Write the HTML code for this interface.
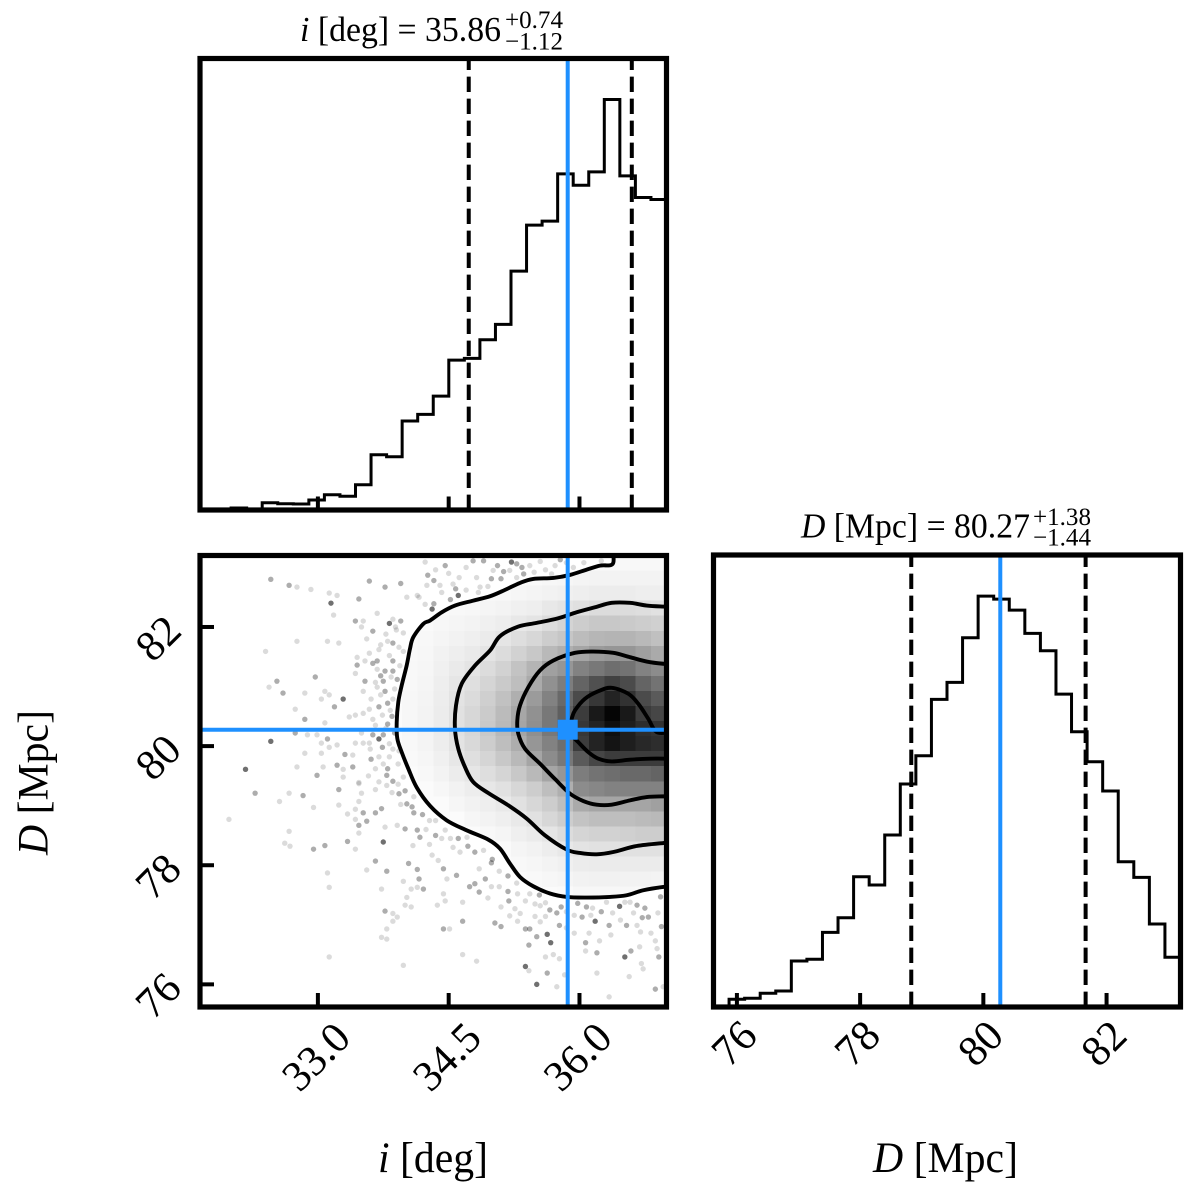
<!DOCTYPE html>
<html lang="en">
<head>
<meta charset="utf-8">
<title>Corner plot of inclination and distance</title>
<style>
  html, body { margin: 0; padding: 0; background: #fff; }
  svg { display: block; font-family: "Liberation Serif", serif; fill: #000; }
</style>
</head>
<body>
<svg id="corner" xmlns="http://www.w3.org/2000/svg" width="1200" height="1200" viewBox="0 0 1200 1200">
  <defs>
    <clipPath id="clip-top"><rect x="200" y="58.5" width="466.5" height="451.5"/></clipPath>
    <clipPath id="clip-joint"><rect x="200" y="555.5" width="466.5" height="451.5"/></clipPath>
    <clipPath id="clip-right"><rect x="713.5" y="555" width="467" height="452"/></clipPath>
    <clipPath id="clip-density"><path id="clip-density-path" d=""/></clipPath>
  </defs>
  <g id="layer-marks"></g>
  <g id="layer-axes"></g>

  <g>
    <text x="300" y="41" font-size="34.5" textLength="201" lengthAdjust="spacingAndGlyphs"><tspan font-style="italic">i</tspan> [deg] = 35.86</text>
    <text x="505" y="28" font-size="25" textLength="58" lengthAdjust="spacingAndGlyphs">+0.74</text>
    <text x="505" y="49.5" font-size="25" textLength="58" lengthAdjust="spacingAndGlyphs">−1.12</text>
    <text x="801" y="537.7" font-size="34.5" textLength="229" lengthAdjust="spacingAndGlyphs"><tspan font-style="italic">D</tspan> [Mpc] = 80.27</text>
    <text x="1033" y="525" font-size="25" textLength="58" lengthAdjust="spacingAndGlyphs">+1.38</text>
    <text x="1033" y="545.7" font-size="25" textLength="58" lengthAdjust="spacingAndGlyphs">−1.44</text>
  </g>
  <text x="378" y="1172" font-size="43" textLength="110" lengthAdjust="spacingAndGlyphs"><tspan font-style="italic">i</tspan> [deg]</text>
  <text x="873" y="1172" font-size="43" textLength="145" lengthAdjust="spacingAndGlyphs"><tspan font-style="italic">D</tspan> [Mpc]</text>
  <text transform="translate(47.7 855) rotate(-90)" font-size="43" textLength="145" lengthAdjust="spacingAndGlyphs"><tspan font-style="italic">D</tspan> [Mpc]</text>
</svg>

<script>
// ---------- data ----------
const iRange = [31.648, 36.998];
const dRange = [75.62, 83.2];
const binCount = 30;

const iCounts = [0.2, 0.3, 2, 0.5, 7.3, 6.3, 6, 10, 15.3, 13.7, 25.3, 55.3, 53.3, 89, 95.7, 114, 150, 151.7, 170.3, 185.7, 239, 285, 289, 336.3, 325, 338.3, 410.7, 334.3, 312.7, 310.7];
const dCounts = [1, 7.7, 8.7, 13.7, 16, 46, 47.7, 74.7, 89.3, 130.3, 122, 172, 223, 251.3, 307.7, 324.7, 369.3, 411, 408, 397, 373.7, 356.3, 313, 275.3, 245.3, 216, 145.3, 129.7, 83, 49.7];

const iMedian = 35.865;
const iQuantiles = [34.73, 36.60];
const dMedian = 80.275;
const dQuantiles = [78.83, 81.66];

const iTicks = [33.0, 34.5, 36.0];
const iTickLabels = ['33.0', '34.5', '36.0'];
const dTicks = [76, 78, 80, 82];
const dTickLabels = ['76', '78', '80', '82'];

// 2-D histogram darkness (0 = white, 255 = black); rows run from the highest distance bin downward,
// columns start at heatFirstColumn.
const heatFirstColumn = 13;
const heatRows = [
  [0,0,0,0,0,0,0,0,0,5,5,6,6,7,7,7,7],
  [0,0,0,0,0,0,3,4,6,8,9,11,12,12,12,12,12],
  [0,0,0,0,4,6,7,9,11,13,15,17,19,19,19,17,17],
  [0,4,5,7,8,10,12,15,17,23,27,31,35,35,35,33,30],
  [0,5,8,10,12,15,18,23,27,35,43,50,55,55,53,50,47],
  [5,7,10,13,16,20,26,33,40,50,57,67,73,75,75,70,63],
  [6,8,13,17,21,27,35,45,55,70,80,90,100,105,105,95,85],
  [7,9,15,21,27,35,45,60,75,95,105,125,135,145,140,125,115],
  [7,10,17,25,32,42,53,65,85,110,130,155,175,190,180,155,140],
  [8,11,18,28,36,48,62,80,100,125,150,180,200,220,205,180,165],
  [8,12,19,30,40,52,68,88,110,135,160,195,230,250,230,195,185],
  [8,12,19,30,40,54,70,90,112,135,165,200,220,240,225,210,205],
  [7,11,18,28,38,50,65,82,105,125,145,195,220,235,225,215,210],
  [6,9,15,24,32,42,55,70,90,115,135,165,185,195,195,195,195],
  [0,7,12,19,25,33,42,55,70,90,105,130,140,145,150,150,155],
  [0,0,8,13,18,24,30,40,50,65,80,115,120,125,125,125,125],
  [0,0,0,9,13,17,22,30,40,50,65,85,90,90,90,90,95],
  [0,0,0,0,9,12,16,22,30,40,50,60,65,65,65,68,70],
  [0,0,0,0,0,7,10,16,20,26,35,42,45,45,47,50,50],
  [0,0,0,0,0,0,5,10,13,18,23,28,30,30,30,30,30],
  [0,0,0,0,0,0,0,7,9,12,15,19,20,20,20,20,20],
  [0,0,0,0,0,0,0,0,6,8,10,13,14,14,13,13,12],
  [0,0,0,0,0,0,0,0,0,0,5,8,8,8,8,7,6]
];

// contour levels as [i, D] pairs
const contourOuter = [[36.381,83.3],[36.381,83.059],[36.235,83.03],[36.083,82.963],[35.891,82.874],[35.70,82.824],[35.47,82.807],[35.318,82.74],[35.146,82.623],[34.974,82.516],[34.782,82.443],[34.572,82.36],[34.42,82.247],[34.286,82.108],[34.209,82.053],[34.094,81.828],[34.056,81.633],[34.018,81.353],[33.961,81.018],[33.922,80.738],[33.904,80.402],[33.911,80.124],[33.961,79.899],[34.037,79.621],[34.133,79.307],[34.286,78.997],[34.477,78.754],[34.706,78.586],[34.954,78.43],[35.088,78.279],[35.203,78.028],[35.318,77.803],[35.47,77.647],[35.662,77.525],[35.853,77.468],[36.083,77.458],[36.35,77.468],[36.541,77.496],[36.732,77.58],[36.961,77.635],[37.05,77.64]];
const contourSecond = [[37.05,82.34],[36.961,82.343],[36.771,82.36],[36.579,82.405],[36.369,82.405],[36.178,82.331],[35.968,82.247],[35.757,82.147],[35.509,82.069],[35.298,82.007],[35.088,81.845],[34.974,81.605],[34.802,81.353],[34.649,81.046],[34.584,80.683],[34.572,80.292],[34.61,79.956],[34.687,79.648],[34.782,79.396],[34.954,79.212],[35.183,79.006],[35.395,78.783],[35.604,78.502],[35.853,78.263],[36.006,78.206],[36.197,78.184],[36.388,78.222],[36.656,78.323],[36.961,78.373],[37.05,78.38]];
const contourThird = [[37.05,81.38],[36.961,81.382],[36.771,81.42],[36.579,81.493],[36.388,81.566],[36.158,81.588],[35.948,81.566],[35.70,81.437],[35.547,81.27],[35.413,80.989],[35.318,80.683],[35.287,80.431],[35.298,80.208],[35.375,79.956],[35.547,79.705],[35.719,79.447],[35.891,79.202],[36.044,79.078],[36.197,79.017],[36.369,79.017],[36.579,79.089],[36.771,79.145],[36.961,79.156],[37.05,79.16]];
const contourInner = [[37.05,80.235],[36.885,80.235],[36.789,80.459],[36.674,80.711],[36.56,80.879],[36.369,80.979],[36.216,80.922],[36.063,80.795],[35.948,80.599],[35.911,80.46],[35.891,80.297],[35.914,80.179],[35.986,80.067],[36.101,79.899],[36.216,79.789],[36.369,79.743],[36.579,79.772],[36.808,79.789],[37.05,79.789]];

// samples outside the lowest contour: [i, D, overlap depth]
const scatterSamples = [
[32.46,82.80,2],[32.67,82.70,2],[32.76,82.67,1],[32.92,82.63,1],[33.13,82.57,1],[33.22,82.53,1],[33.15,82.40,3],[33.18,82.20,1],[33.47,82.47,2],[33.59,82.77,2],[33.77,82.67,2],[33.95,82.73,2],[34.02,82.50,1],[34.14,82.53,1],[34.16,82.50,1],[34.23,82.38,1],[34.25,82.70,1],[34.26,82.87,2],[34.23,83.09,1],[33.68,82.23,1],[33.43,82.10,2],[33.52,82.10,1],[33.50,82.00,1],[33.63,81.93,2],[33.82,82.06,3],[33.86,82.13,1],[33.95,82.10,2],[33.89,82.00,1],[33.98,81.90,1],[33.56,81.80,1],[33.80,81.76,1],[33.86,81.73,2],[32.76,81.76,1],[33.11,81.76,1],[33.24,81.73,1],[32.40,81.59,1],[33.59,81.56,1],[33.45,81.49,1],[33.54,81.43,1],[33.63,81.39,2],[33.68,81.43,2],[33.86,81.43,2],[33.98,81.59,1],[33.45,81.36,2],[33.43,81.22,1],[33.68,81.29,1],[33.77,81.26,2],[33.86,81.26,2],[32.97,81.16,2],[32.53,81.09,2],[32.44,80.99,1],[32.60,80.89,2],[32.85,80.89,1],[33.54,81.09,2],[33.75,81.09,2],[33.91,81.12,2],[33.68,80.99,1],[33.77,80.92,2],[33.52,80.92,1],[33.08,80.92,1],[33.04,80.79,1],[33.13,80.86,1],[33.29,80.79,3],[33.61,80.79,1],[33.80,80.72,2],[33.86,80.79,1],[33.70,80.66,2],[32.74,80.62,1],[33.19,80.66,2],[33.59,80.62,1],[33.36,80.49,1],[33.43,80.52,1],[33.52,80.55,1],[33.63,80.45,1],[32.85,80.45,2],[33.08,80.39,1],[33.80,80.37,2],[32.74,80.22,2],[32.88,80.19,1],[32.99,80.19,1],[33.50,80.22,1],[33.63,80.19,2],[33.75,80.19,2],[33.70,80.12,3],[32.46,80.08,3],[33.11,80.12,2],[33.04,80.05,1],[33.13,79.98,1],[33.22,80.02,1],[33.43,80.05,1],[33.52,80.05,1],[33.59,80.05,1],[33.82,80.04,1],[32.85,79.88,1],[33.04,79.88,1],[33.31,79.86,2],[33.40,79.85,1],[33.61,79.78,2],[33.70,79.82,1],[33.82,79.82,1],[33.93,79.92,1],[33.22,79.68,2],[33.40,79.65,2],[33.29,79.61,1],[32.76,79.65,1],[33.06,79.65,1],[32.17,79.61,3],[32.99,79.51,2],[33.29,79.48,1],[33.47,79.39,1],[33.79,79.51,2],[33.86,79.41,2],[33.98,79.48,1],[33.75,79.70,1],
[32.28,79.21,2],[32.67,79.21,1],[32.83,79.17,2],[32.56,79.07,1],[32.95,78.97,1],[31.98,78.77,1],[33.24,79.27,2],[33.24,79.01,1],[33.47,79.37,1],[33.50,79.21,1],[33.47,79.07,1],[33.66,79.27,1],[33.79,79.34,1],[33.34,78.86,1],[33.43,78.94,1],[33.52,78.88,2],[33.66,78.88,2],[33.73,78.95,2],[33.43,78.77,1],[33.56,78.74,2],[33.47,78.67,2],[33.47,78.54,1],[32.67,78.57,1],[32.62,78.37,1],[32.68,78.32,1],[32.95,78.27,2],[33.08,78.33,2],[33.34,78.40,2],[33.43,78.27,1],[33.75,78.39,3],[33.77,78.64,1],[33.91,78.67,1],[34.00,78.61,2],[34.14,78.59,2],[34.17,78.47,2],[34.09,78.33,1],[33.93,79.20,2],[34.02,79.03,2],[34.10,78.88,2],[33.66,78.07,2],[33.11,77.87,1],[33.13,77.63,1],[33.56,77.92,1],[33.79,77.90,2],[34.04,78.03,2],[34.14,77.93,2],[34.16,77.77,2],[33.98,77.73,1],[33.73,77.60,1],[34.07,77.60,1],[34.14,77.63,1],[34.21,77.60,2],[34.02,77.46,1],[34.00,77.33,1],[34.07,77.30,1],[33.77,77.23,2],[33.86,77.19,1],[33.91,77.13,1],[33.86,77.06,1],[33.79,76.93,1],[33.73,76.79,1],[33.79,76.76,1],[33.13,76.46,1],[33.98,76.32,1],
[34.35,78.75,1],[34.46,78.59,1],[34.42,78.45,1],[34.52,78.45,1],[34.61,78.45,2],[34.71,78.47,1],[34.63,78.22,1],[34.80,78.22,2],[34.31,78.17,1],[34.38,78.08,1],[34.99,78.04,2],[34.44,77.94,2],[34.59,77.83,2],[34.85,77.94,1],[34.48,77.77,1],[34.92,77.77,2],[34.80,77.69,2],[34.74,77.64,2],[34.99,77.64,1],[35.08,77.64,1],[34.85,77.55,2],[35.18,77.56,2],[35.29,77.52,1],[35.43,77.52,1],[35.54,77.50,2],[34.44,77.52,1],[34.46,77.40,1],[34.37,77.33,1],[34.66,77.38,1],[35.19,77.40,2],[35.26,77.27,1],[35.49,77.35,1],[35.61,77.37,1],[35.79,77.30,2],[35.74,77.20,2],[35.32,77.19,1],[35.49,77.14,1],[35.61,77.14,1],[35.94,77.16,1],[35.98,77.36,2],[36.08,77.30,2],[36.03,77.13,2],[36.13,77.16,1],[36.31,77.38,1],[36.46,77.31,3],[36.58,77.38,1],[36.66,77.33,2],[36.75,77.28,2],[36.79,77.13,2],[36.52,77.38,1],[36.93,77.47,2],[36.18,77.06,3],[36.34,76.99,2],[36.54,76.99,2],[36.66,76.99,1],[36.47,77.08,1],[36.94,76.97,2],[34.66,77.06,2],[35.03,77.03,2],[35.10,76.97,2],[34.44,76.93,2],[34.51,76.93,1],[35.38,76.93,2],[35.43,76.93,2],[35.29,77.06,1],[35.77,76.99,2],[35.63,76.84,3],[35.51,76.80,2],[35.67,76.70,3],[35.42,76.66,2],[35.94,76.86,1],[36.11,76.86,1],[36.23,76.73,1],[36.07,76.70,2],[36.36,76.83,1],[36.70,76.88,1],[36.82,76.86,1],[36.87,76.73,1],[36.69,76.63,1],[36.59,76.56,2],[36.52,76.46,3],[36.91,76.46,2],[36.89,76.60,1],[36.07,76.56,1],[36.20,76.53,2],[34.66,76.50,1],[34.82,76.39,1],[35.61,76.46,1],[35.70,76.50,1],[35.77,76.43,1],[35.38,76.30,3],[35.42,76.23,1],[35.63,76.19,2],[35.51,76.00,3],[35.74,75.96,1],[35.83,76.16,1],[36.20,76.19,1],[36.57,76.13,1],[36.71,76.35,1],[36.73,76.26,1],[36.87,75.92,2],[36.96,75.96,1],[36.34,75.79,1],
[34.46,83.03,2],[34.35,82.96,1],[34.33,82.78,2],[34.40,82.70,1],[34.62,82.83,1],[34.82,82.83,1],[34.99,82.81,2],[35.10,82.81,2],[34.58,82.64,2],[34.61,82.53,3],[34.52,82.46,2],[34.86,82.67,1],[34.90,83.11,2],[34.78,83.11,2],[35.06,83.03,2],[35.13,82.93,2],[35.22,83.09,3],[35.28,83.06,2],[35.43,83.03,1],[35.34,83.00,2],[35.36,82.89,2],[35.72,83.03,1],[35.78,83.13,2],[35.61,82.96,1],[35.93,83.00,1],[36.25,83.11,1],[34.33,82.39,2],[34.31,82.30,3],[35.68,82.89,1],[35.28,82.83,1],[35.01,82.95,1],[34.84,82.58,1],[34.42,82.58,1],
[33.90,81.95,1],[33.78,81.88,1],[33.72,81.70,1],[33.93,81.66,1],[33.70,81.62,1],[33.82,81.52,1],[33.94,81.35,1],[33.72,81.18,2],[33.84,81.16,1],[33.66,81.07,1],[33.88,80.96,1],[33.72,80.86,1],[33.83,80.60,1],[33.74,80.52,1],[33.85,80.50,2],[33.66,80.35,1],[33.78,80.30,1],[33.88,80.22,2],[33.60,79.95,1],[33.74,79.98,2],[33.86,79.95,1],[33.66,79.62,1],[33.80,79.62,2],[33.92,79.70,1],[33.58,79.50,1],[33.70,79.40,1],[33.92,79.36,1],[34.00,79.25,2],[34.10,79.15,1],[33.85,79.22,1],[33.95,79.02,1],[34.08,78.98,2],[34.20,78.85,2],[34.28,78.75,1],[34.24,78.60,1],[34.35,78.50,2],[34.28,78.35,1],
[34.55,78.30,1],[34.72,78.32,2],[34.90,78.25,1],[35.00,78.10,2],[35.08,77.90,1],[35.18,77.82,2],[35.28,77.70,1],[35.38,77.40,1],[35.55,77.32,1],[35.66,77.25,2],[35.85,77.22,1],[36.15,77.28,1],[36.25,77.22,2],[36.38,77.20,1],[36.62,77.20,1],[36.72,77.12,2],[36.90,77.20,1],[35.20,77.15,1],[35.10,77.30,1],[34.95,77.45,1],[35.55,77.05,1],[35.85,76.95,1],
[34.70,82.62,1],[34.55,82.72,1],[34.95,82.68,1],[35.20,82.95,1],[35.48,82.92,1],[35.55,83.10,1],[34.70,83.00,1],[34.50,82.90,1],[35.85,83.08,1],[36.05,83.08,1]
];

// ---------- axis functions ----------
const TOP = { left: 200, right: 666.5, top: 58.5, bottom: 510 };
const JOINT = { left: 200, right: 666.5, top: 555.5, bottom: 1007 };
const RIGHT = { left: 713.5, right: 1180.5, top: 555, bottom: 1007 };

function scaleI(v) { return 200 + (v - iRange[0]) / (iRange[1] - iRange[0]) * 466.5; }
function scaleDx(v) { return 713.5 + (v - dRange[0]) / (dRange[1] - dRange[0]) * 467; }
function scaleDy(v) { return 1007 - (v - dRange[0]) / (dRange[1] - dRange[0]) * 451.5; }
function histY(panel, count, counts) {
  const yMax = Math.max.apply(null, counts) * 1.1;
  return panel.bottom - count / yMax * (panel.bottom - panel.top);
}

// ---------- helpers ----------
const NS = 'http://www.w3.org/2000/svg';
const marks = document.getElementById('layer-marks');
const axes = document.getElementById('layer-axes');
function make(tag, attrs, parent) {
  const el = document.createElementNS(NS, tag);
  for (const k in attrs) el.setAttribute(k, attrs[k]);
  parent.appendChild(el);
  return el;
}
function smoothPath(points) {
  let d = 'M' + points[0][0].toFixed(2) + ' ' + points[0][1].toFixed(2);
  for (let k = 0; k < points.length - 1; k++) {
    const p0 = points[Math.max(k - 1, 0)], p1 = points[k], p2 = points[k + 1], p3 = points[Math.min(k + 2, points.length - 1)];
    const c1x = p1[0] + (p2[0] - p0[0]) / 6, c1y = p1[1] + (p2[1] - p0[1]) / 6;
    const c2x = p2[0] - (p3[0] - p1[0]) / 6, c2y = p2[1] - (p3[1] - p1[1]) / 6;
    d += 'C' + c1x.toFixed(2) + ' ' + c1y.toFixed(2) + ' ' + c2x.toFixed(2) + ' ' + c2y.toFixed(2) + ' ' + p2[0].toFixed(2) + ' ' + p2[1].toFixed(2);
  }
  return d;
}
function jointPoints(pairs) {
  return pairs.map(function (p) { return [scaleI(p[0]), scaleDy(p[1])]; });
}
function stepPath(counts, range, scaleX, panel) {
  const w = (range[1] - range[0]) / binCount;
  let d = 'M' + scaleX(range[0]).toFixed(2) + ' ' + panel.bottom;
  counts.forEach(function (c, k) {
    const y = histY(panel, c, counts).toFixed(2);
    d += 'L' + scaleX(range[0] + k * w).toFixed(2) + ' ' + y + 'L' + scaleX(range[0] + (k + 1) * w).toFixed(2) + ' ' + y;
  });
  return d;
}

// ---------- panel backgrounds: scatter, density ----------
const jointMarks = make('g', { 'clip-path': 'url(#clip-joint)' }, marks);



scatterSamples.forEach(function (s) {
  const dot = make('circle', {
    cx: scaleI(s[0]).toFixed(2), cy: scaleDy(s[1]).toFixed(2), r: 2.7,
    fill: '#000', 'fill-opacity': [0, 0.14, 0.32, 0.56][s[2]]
  }, jointMarks);
  
  
});

// density region bounded by the lowest contour and the panel's top right corner
const regionPts = jointPoints(contourOuter);
const regionD = smoothPath(regionPts) + 'L' + (JOINT.right + 10) + ' ' + (JOINT.top - 10) + 'Z';
document.getElementById('clip-density-path').setAttribute('d', regionD);

const densityGroup = make('g', { 'clip-path': 'url(#clip-density)' }, jointMarks);



const densityBase = make('rect', { x: JOINT.left, y: JOINT.top, width: 466.5, height: 451.5, fill: '#fbfbfb' }, densityGroup);



const iBin = (iRange[1] - iRange[0]) / binCount;
const dBin = (dRange[1] - dRange[0]) / binCount;
heatRows.forEach(function (row, r) {
  row.forEach(function (value, c) {
    if (!value) return;
    const col = heatFirstColumn + c;
    const x0 = scaleI(iRange[0] + col * iBin), x1 = scaleI(iRange[0] + (col + 1) * iBin);
    const y0 = scaleDy(dRange[1] - r * dBin), y1 = scaleDy(dRange[1] - (r + 1) * dBin);
    const g = Math.round(255 - value);
    const cell = make('rect', {
      x: x0.toFixed(2), y: y0.toFixed(2), width: (x1 - x0 + 0.3).toFixed(2), height: (y1 - y0 + 0.3).toFixed(2),
      fill: 'rgb(' + g + ',' + g + ',' + g + ')', 'shape-rendering': 'crispEdges'
    }, densityGroup);
    
    
  });
});

// ---------- contours ----------
[contourOuter, contourSecond, contourThird, contourInner].forEach(function (pairs) {
  const line = make('path', {
    d: smoothPath(jointPoints(pairs)), fill: 'none', stroke: '#000', 'stroke-width': 3.9, 'stroke-linejoin': 'round'
  }, jointMarks);
  
  
});

// ---------- histograms ----------
const histIGroup = make('g', { 'clip-path': 'url(#clip-top)' }, marks);


const histIPath = make('path', { d: stepPath(iCounts, iRange, scaleI, TOP), fill: 'none', stroke: '#000', 'stroke-width': 3 }, histIGroup);



const histDGroup = make('g', { 'clip-path': 'url(#clip-right)' }, marks);


const histDPath = make('path', { d: stepPath(dCounts, dRange, scaleDx, RIGHT), fill: 'none', stroke: '#000', 'stroke-width': 3 }, histDGroup);



// quantile dashes drawn upward from the baseline
iQuantiles.forEach(function (q) {
  const x = scaleI(q).toFixed(2);
  const dash = make('line', { x1: x, x2: x, y1: TOP.bottom, y2: TOP.top, stroke: '#000', 'stroke-width': 4, 'stroke-dasharray': '15.4 6.6' }, histIGroup);
  
  
});
dQuantiles.forEach(function (q) {
  const x = scaleDx(q).toFixed(2);
  const dash = make('line', { x1: x, x2: x, y1: RIGHT.bottom, y2: RIGHT.top, stroke: '#000', 'stroke-width': 4, 'stroke-dasharray': '15.4 6.6' }, histDGroup);
  
  
});

// median / truth lines
const BLUE = '#1e90ff';
const medianTop = make('line', { x1: scaleI(iMedian), x2: scaleI(iMedian), y1: TOP.top, y2: TOP.bottom, stroke: BLUE, 'stroke-width': 4 }, histIGroup);


const medianRight = make('line', { x1: scaleDx(dMedian), x2: scaleDx(dMedian), y1: RIGHT.top, y2: RIGHT.bottom, stroke: BLUE, 'stroke-width': 4 }, histDGroup);


const jointV = make('line', { x1: scaleI(iMedian), x2: scaleI(iMedian), y1: JOINT.top, y2: JOINT.bottom, stroke: BLUE, 'stroke-width': 4 }, jointMarks);


const jointH = make('line', { x1: JOINT.left, x2: JOINT.right, y1: scaleDy(dMedian), y2: scaleDy(dMedian), stroke: BLUE, 'stroke-width': 4 }, jointMarks);


const medianMarker = make('rect', { x: scaleI(iMedian) - 10, y: scaleDy(dMedian) - 10, width: 20, height: 20, fill: BLUE }, jointMarks);



// ---------- frames ----------
[[TOP, 'inclination-panel-frame'], [JOINT, 'joint-panel-frame'], [RIGHT, 'distance-panel-frame']].forEach(function (item) {
  const p = item[0];
  const frame = make('rect', { x: p.left, y: p.top, width: p.right - p.left, height: p.bottom - p.top, fill: 'none', stroke: '#000', 'stroke-width': 5.2 }, axes);
  
  
});

// ---------- ticks ----------
function addTick(x1, y1, x2, y2, name) {
  const t = make('line', { x1: x1, y1: y1, x2: x2, y2: y2, stroke: '#000', 'stroke-width': 4 }, axes);
  
  
}
function addLabel(text, cx, cy, name) {
  const t = make('text', { transform: 'translate(' + cx.toFixed(1) + ' ' + cy.toFixed(1) + ') rotate(-45)', 'text-anchor': 'middle', y: 14.5, 'font-size': 43 }, axes);
  t.textContent = text;
  
  
}
iTicks.forEach(function (v, k) {
  const x = scaleI(v);
  addTick(x, TOP.bottom, x, TOP.bottom - 13.5, 'inclination-hist-x-tick');
  addTick(x, JOINT.bottom, x, JOINT.bottom - 14, 'joint-x-tick');
  addLabel(iTickLabels[k], x - 2, 1056.5, 'x-tick-label-inclination');
});
dTicks.forEach(function (v, k) {
  const x = scaleDx(v), y = scaleDy(v);
  addTick(x, RIGHT.bottom, x, RIGHT.bottom - 14, 'distance-hist-x-tick');
  addTick(JOINT.left, y, JOINT.left + 14, y, 'joint-y-tick');
  addLabel(dTickLabels[k], x - 3, 1043, 'x-tick-label-distance');
  addLabel(dTickLabels[k], 158, y + 11, 'y-tick-label-distance');
});
</script>
</body>
</html>
